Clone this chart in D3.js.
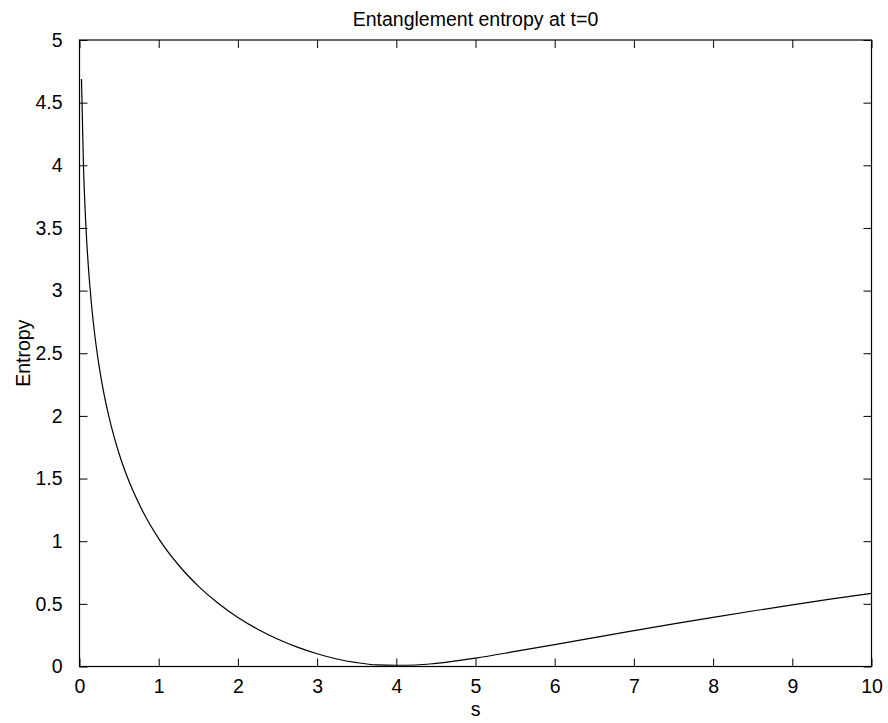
<!DOCTYPE html>
<html>
<head>
<meta charset="utf-8">
<script src="https://cdn.jsdelivr.net/npm/d3@7"></script>
<style>
html,body{margin:0;padding:0;background:#fff;}
svg{display:block;}
text{font-family:"Liberation Sans",Arial,Helvetica,sans-serif;fill:#000;}
</style>
</head>
<body>
<svg id="chart" width="888" height="723"></svg>
<script>
// Values
const sValues = [0.025,0.05,0.075,0.1,0.125,0.15,0.2,0.25,0.3,0.4,0.5,0.6,0.8,1.0,1.25,1.5,1.75,2.0,2.25,2.5,2.75,3.0,3.25,3.5,3.75,4.0,4.25,4.5,5.0,5.5,6.0,6.5,7.0,7.5,8.0,8.5,9.0,9.5,10.0];
const entropyValues = [4.688,3.996,3.590,3.303,3.080,2.897,2.610,2.388,2.206,1.920,1.698,1.518,1.237,1.021,0.810,0.642,0.505,0.392,0.298,0.220,0.155,0.102,0.060,0.031,0.013,0.010,0.012,0.025,0.067,0.120,0.175,0.231,0.286,0.340,0.392,0.443,0.492,0.539,0.584];
const xTicks = [0,1,2,3,4,5,6,7,8,9,10];
const yTicks = [0,0.5,1,1.5,2,2.5,3,3.5,4,4.5,5];
const yTickLabels = ["0","0.5","1","1.5","2","2.5","3","3.5","4","4.5","5"];
const titleText = "Entanglement entropy at t=0";
const xLabel = "s";
const yLabel = "Entropy";

const data = sValues.map((s,i)=>({s:s,e:entropyValues[i]}));

const L=79.5, R=871.5, T=40, B=666.5;
const svg = d3.select("#chart");
const x = d3.scaleLinear().domain([0,10]).range([L,R]);
const y = d3.scaleLinear().domain([0,5]).range([B,T]);
const fs = 19.5;
const tickLen = 8;

// box
svg.append("rect").attr("x",L).attr("y",T).attr("width",R-L).attr("height",B-T)
  .attr("fill","none").attr("stroke","#000").attr("stroke-width",1.2);

// axes with inward ticks
const xb = svg.append("g").attr("transform",`translate(0,${B})`)
  .call(d3.axisBottom(x).tickValues(xTicks).tickSize(-tickLen).tickPadding(tickLen+5).tickFormat(d3.format("d")));
const xt = svg.append("g").attr("transform",`translate(0,${T})`)
  .call(d3.axisTop(x).tickValues(xTicks).tickSize(-tickLen).tickFormat(""));
const yl = svg.append("g").attr("transform",`translate(${L},0)`)
  .call(d3.axisLeft(y).tickValues(yTicks).tickSize(-tickLen).tickPadding(tickLen+9).tickFormat((d,i)=>yTickLabels[i]));
const yr = svg.append("g").attr("transform",`translate(${R},0)`)
  .call(d3.axisRight(y).tickValues(yTicks).tickSize(-tickLen).tickFormat(""));
[xb,xt,yl,yr].forEach(g=>{
  g.select(".domain").remove();
  g.selectAll(".tick line").attr("stroke","#000").attr("stroke-width",1);
  g.selectAll(".tick text").attr("font-size",fs).attr("font-family",'"Liberation Sans",Arial,sans-serif').attr("fill","#000");
});

// curve
const line = d3.line().x(d=>x(d.s)).y(d=>y(d.e)).curve(d3.curveMonotoneX);
svg.append("path").datum(data).attr("d",line)
  .attr("fill","none").attr("stroke","#000").attr("stroke-width",1.2);

// texts
svg.append("text").attr("x",(L+R)/2).attr("y",26).attr("text-anchor","middle")
  .attr("font-size",fs).text(titleText);
svg.append("text").attr("x",(L+R)/2).attr("y",716).attr("text-anchor","middle")
  .attr("font-size",fs).text(xLabel);
svg.append("text").attr("transform",`translate(30,${(T+B)/2}) rotate(-90)`).attr("text-anchor","middle")
  .attr("font-size",fs).text(yLabel);
</script>
</body>
</html>
